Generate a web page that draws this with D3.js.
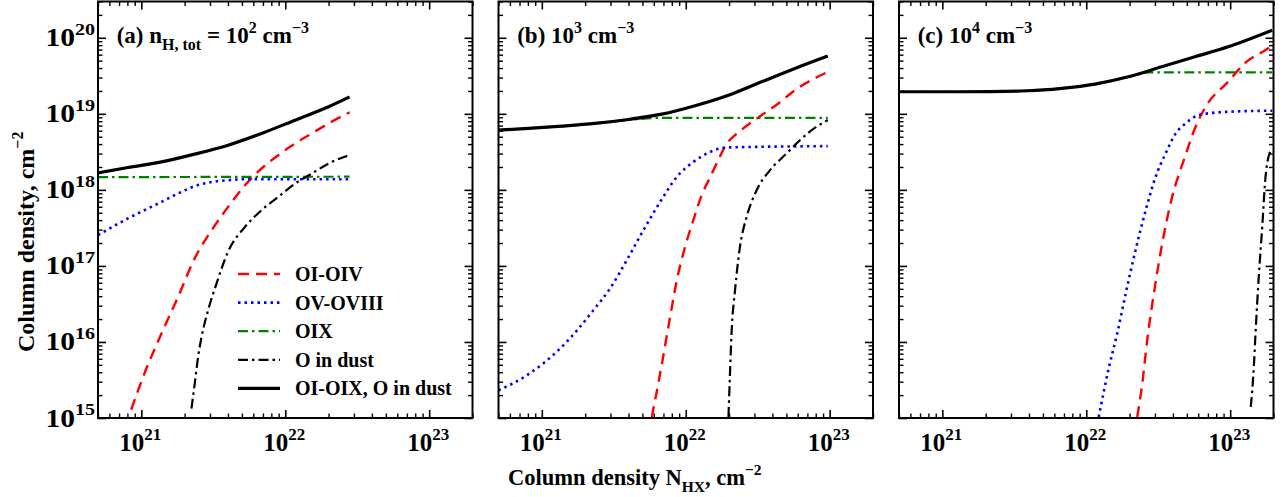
<!DOCTYPE html>
<html>
<head>
<meta charset="utf-8">
<script src="https://cdn.jsdelivr.net/npm/d3@7"></script>
<style>
body { margin: 0; background: #fff; }
text { font-family: "Liberation Serif", "Times New Roman", serif; font-weight: bold; fill: #000; }
</style>
</head>
<body>
<div id="chart-area"></div>
<script>
// values: [N_HX (cm^-2), column density (cm^-2)]
// panel (a) n = 1e2
let aLowIon = [[8.51e20,1.29e15],[1.05e21,3.84e15],[1.38e21,1.29e16],[1.80e21,3.91e16],[2.35e21,1.26e17],[3.08e21,2.95e17],[4.01e21,5.97e17],[5.25e21,1.15e18],[6.85e21,1.91e18],[8.95e21,2.86e18],[1.17e22,4.08e18],[1.53e22,5.52e18],[2.0e22,7.48e18],[2.8e22,1.05e19]];
let aHighIon = [[5e20,2.54e17],[8.07e20,4.21e17],[1.38e21,6.95e17],[1.80e21,8.97e17],[2.35e21,1.12e18],[3.08e21,1.27e18],[4.01e21,1.34e18],[5.25e21,1.38e18],[2.8e22,1.38e18]];
let aOIX = [[5e20,1.47e18],[2.8e22,1.49e18]];
let aDust = [[2.23e21,1.33e15],[2.35e21,2.84e15],[2.48e21,6.35e15],[2.62e21,1.16e16],[2.91e21,2.61e16],[3.33e21,5.86e16],[4.01e21,1.55e17],[5.25e21,3.26e17],[6.85e21,5.41e17],[8.95e21,8.09e17],[1.17e22,1.21e18],[1.53e22,1.64e18],[2.0e22,2.22e18],[2.8e22,2.87e18]];
let aTotal = [[5e20,1.67e18],[8.07e20,1.97e18],[1.38e21,2.33e18],[2.35e21,2.95e18],[4.01e21,3.87e18],[6.85e21,5.52e18],[1.17e22,8.26e18],[2.0e22,1.24e19],[2.8e22,1.67e19]];

// panel (b) n = 1e3
let bLowIon = [[5.81e21,1.03e15],[6.64e21,3.84e15],[7.57e21,1.57e16],[8.67e21,6.49e16],[9.89e21,1.78e17],[1.13e22,4.02e17],[1.29e22,8.51e17],[1.48e22,1.48e18],[1.68e22,2.46e18],[1.87e22,3.69e18],[2.4e22,6.0e18],[3.16e22,8.85e18],[4.40e22,1.37e19],[5.74e22,2.05e19],[9.7e22,3.55e19]];
let bHighIon = [[5e20,2.31e15],[7.87e20,3.65e15],[1.34e21,8.2e15],[1.75e21,1.41e16],[2.28e21,2.61e16],[2.98e21,5.05e16],[3.89e21,1.19e17],[5.08e21,2.95e17],[6.64e21,6.95e17],[8.67e21,1.48e18],[1.13e22,2.33e18],[1.48e22,3.16e18],[1.93e22,3.61e18],[9.7e22,3.76e18]];
let bOIX = [[5e20,6.1e18],[8.07e20,6.42e18],[1.38e21,6.88e18],[2.34e21,7.44e18],[3.99e21,8.3e18],[6.8e21,8.85e18],[9.7e22,8.85e18]];
let bDust = [[1.98e22,1.03e15],[2.03e22,3.84e15],[2.08e22,1.29e16],[2.20e22,4.79e16],[2.38e22,1.78e17],[2.65e22,4.42e17],[3.11e22,9.91e17],[3.85e22,1.82e18],[5.02e22,3.01e18],[6.05e22,4.29e18],[7.50e22,6.11e18],[9.7e22,8.3e18]];
let bTotal = [[5e20,6.11e18],[8.07e20,6.43e18],[1.38e21,6.89e18],[2.34e21,7.48e18],[3.99e21,8.43e18],[6.81e21,9.91e18],[1.16e22,1.28e19],[1.98e22,1.76e19],[3.37e22,2.64e19],[5.74e22,3.95e19],[9.7e22,5.74e19]];

// panel (c) n = 1e4
let cLowIon = [[2.26e22,1.03e15],[2.45e22,2.84e15],[2.65e22,1.05e16],[2.95e22,4.34e16],[3.37e22,1.97e17],[3.95e22,8.09e17],[4.76e22,2.46e18],[5.75e22,6.75e18],[6.75e22,1.24e19],[9.68e22,2.64e19],[1.26e23,4.6e19],[1.84e23,7.26e19],[1.96e23,7.9e19]];
let cHighIon = [[1.22e22,1.03e15],[1.44e22,4.69e15],[1.64e22,1.29e16],[1.88e22,4.34e16],[2.20e22,1.61e17],[2.59e22,5.41e17],[3.03e22,1.48e18],[3.56e22,3.01e18],[4.18e22,5.52e18],[4.90e22,7.48e18],[6.07e22,9.62e18],[9.29e22,1.06e19],[1.96e23,1.1e19]];
let cOIX = [[5e20,1.95e19],[1.36e21,1.95e19],[3.95e21,2.01e19],[6.75e21,2.16e19],[1.15e22,2.46e19],[1.96e22,3.06e19],[2.7e22,3.5e19],[1.96e23,3.5e19]];
let cDust = [[1.39e23,1.4e15],[1.46e23,4.69e15],[1.50e23,1.29e16],[1.58e23,7.16e16],[1.67e23,3.26e17],[1.76e23,1.48e18],[1.91e23,3.33e18]];
let cTotal = [[5e20,1.95e19],[1.36e21,1.95e19],[3.95e21,2.01e19],[6.75e21,2.16e19],[1.15e22,2.46e19],[1.96e22,3.07e19],[3.34e22,4.15e19],[5.69e22,5.62e19],[9.68e22,7.62e19],[1.96e23,1.26e20]];

let seriesNames = ["OI-OIV", "OV-OVIII", "OIX", "O in dust", "OI-OIX, O in dust"];
let xMajor = [1e21, 1e22, 1e23];
let yMajor = [1e15, 1e16, 1e17, 1e18, 1e19, 1e20];

let width = 1288,
height = 497;

let svg = d3.select("#chart-area").append("svg")
.attr("width", width)
.attr("height", height);

let plotTop = 1.5, plotBottom = 418, plotW = 374.5;
let panelLeft = [98, 498.5, 899];

let x = d3.scaleLog().domain([5e20, 2e23]).range([0, plotW]);
let y = d3.scaleLog().domain([1e15, 3e20]).range([plotBottom, plotTop]);

let xMinor = x.ticks().filter(v => xMajor.indexOf(v) < 0);
let yMinor = y.ticks().filter(v => yMajor.indexOf(v) < 0);

// line styles for the five series
let styles = [
	{color: "#ff0000", dash: "11,7", w: 2.4},
	{color: "#0000ff", dash: "2.5,4", w: 2.6},
	{color: "#008000", dash: "10,4,2.5,4", w: 2.2},
	{color: "#000000", dash: "10,4,2.5,4", w: 2.2},
	{color: "#000000", dash: null, w: 3.2}
];

let panels = [
	{series: [aLowIon, aHighIon, aOIX, aDust, aTotal],
	 title: [["(a) n"], ["H, tot", "sub"], [" = 10"], ["2", "sup"], [" cm"], ["\u22123", "sup"]], yLabels: true, legend: true},
	{series: [bLowIon, bHighIon, bOIX, bDust, bTotal],
	 title: [["(b) 10"], ["3", "sup"], [" cm"], ["\u22123", "sup"]]},
	{series: [cLowIon, cHighIon, cOIX, cDust, cTotal],
	 title: [["(c) 10"], ["4", "sup"], [" cm"], ["\u22123", "sup"]]}
];

// text with super/subscripts
function addRich(sel, parts, size, small) {
	let shift = 0;
	parts.forEach(p => {
		let target = p[1] === "sup" ? -size * 0.45 : p[1] === "sub" ? size * 0.3 : 0;
		sel.append("tspan")
			.attr("dy", target - shift)
			.style("font-size", (p[1] ? small : size) + "px")
			.text(p[0]);
		shift = target;
	});
}

let line = d3.line()
	.x(d => x(d[0]))
	.y(d => y(d[1]))
	.curve(d3.curveMonotoneX);

svg.append("defs").append("clipPath").attr("id", "plotclip")
	.append("rect").attr("x", 0).attr("y", plotTop).attr("width", plotW).attr("height", plotBottom - plotTop);

panels.forEach((p, i) => {
	let g = svg.append("g").attr("transform", "translate(" + panelLeft[i] + ",0)");

	// ticks on all four sides, pointing inwards
	let axes = [
		[d3.axisBottom(x), "translate(0," + plotBottom + ")", xMajor, xMinor],
		[d3.axisTop(x), "translate(0," + plotTop + ")", xMajor, xMinor],
		[d3.axisLeft(y), "translate(0,0)", yMajor, yMinor],
		[d3.axisRight(y), "translate(" + plotW + ",0)", yMajor, yMinor]
	];
	axes.forEach(a => {
		let maj = g.append("g").attr("transform", a[1])
			.call(a[0].tickValues(a[2]).tickSize(-8).tickFormat(""));
		maj.select(".domain").remove();
		maj.selectAll("line").attr("stroke-width", 1.6);
		let ax2 = a[0].tickValues(a[3]).tickSize(-4.5).tickFormat("");
		let mn = g.append("g").attr("transform", a[1]).call(ax2);
		mn.select(".domain").remove();
		mn.selectAll("line").attr("stroke-width", 1.4);
	});

	// curves
	let cg = g.append("g").attr("clip-path", "url(#plotclip)");
	p.series.forEach((s, k) => {
		cg.append("path")
			.datum(s)
			.attr("d", line)
			.attr("fill", "none")
			.attr("stroke", styles[k].color)
			.attr("stroke-width", styles[k].w)
			.attr("stroke-dasharray", styles[k].dash);
	});

	// frame
	g.append("rect")
		.attr("x", 0).attr("y", plotTop)
		.attr("width", plotW).attr("height", plotBottom - plotTop)
		.attr("fill", "none").attr("stroke", "#000").attr("stroke-width", 2);

	// x tick labels
	xMajor.forEach(v => {
		let t = g.append("text")
			.attr("x", x(v) - 1).attr("y", 451)
			.attr("text-anchor", "middle")
			.style("font-size", "25px");
		addRich(t, [["10"], [String(Math.round(Math.log10(v))), "sup"]], 25, 17);
	});

	if (p.yLabels) {
		yMajor.forEach(v => {
			let t = g.append("text")
				.attr("transform", "translate(-3," + (y(v) + 8.5) + ") scale(1.18,1)")
				.attr("text-anchor", "end")
				.style("font-size", "25px");
			addRich(t, [["10"], [String(Math.round(Math.log10(v))), "sup"]], 25, 17);
		});
	}

	// panel title
	let tt = g.append("text").attr("x", 18.7).attr("y", 43).style("font-size", "23px");
	addRich(tt, p.title, 23, 16);

	if (p.legend) {
		seriesNames.forEach((name, k) => {
			let ly = 274 + k * 28.6;
			g.append("line")
				.attr("x1", 140).attr("x2", 182)
				.attr("y1", ly).attr("y2", ly)
				.attr("stroke", styles[k].color)
				.attr("stroke-width", styles[k].w)
				.attr("stroke-dasharray", styles[k].dash);
			g.append("text")
				.attr("x", 197).attr("y", ly + 7)
				.style("font-size", "20px")
				.text(name);
		});
	}
});

// axis titles
let yt = svg.append("text")
	.attr("transform", "translate(34,352) rotate(-90)")
	.style("font-size", "24px");
addRich(yt, [["Column density, cm"], ["\u22122", "sup"]], 24, 16);

let xt = svg.append("text")
	.attr("x", 508).attr("y", 485)
	.style("font-size", "22.5px");
addRich(xt, [["Column density N"], ["HX", "sub"], [", cm"], ["\u22122", "sup"]], 22.5, 15.5);
</script>
</body>
</html>
